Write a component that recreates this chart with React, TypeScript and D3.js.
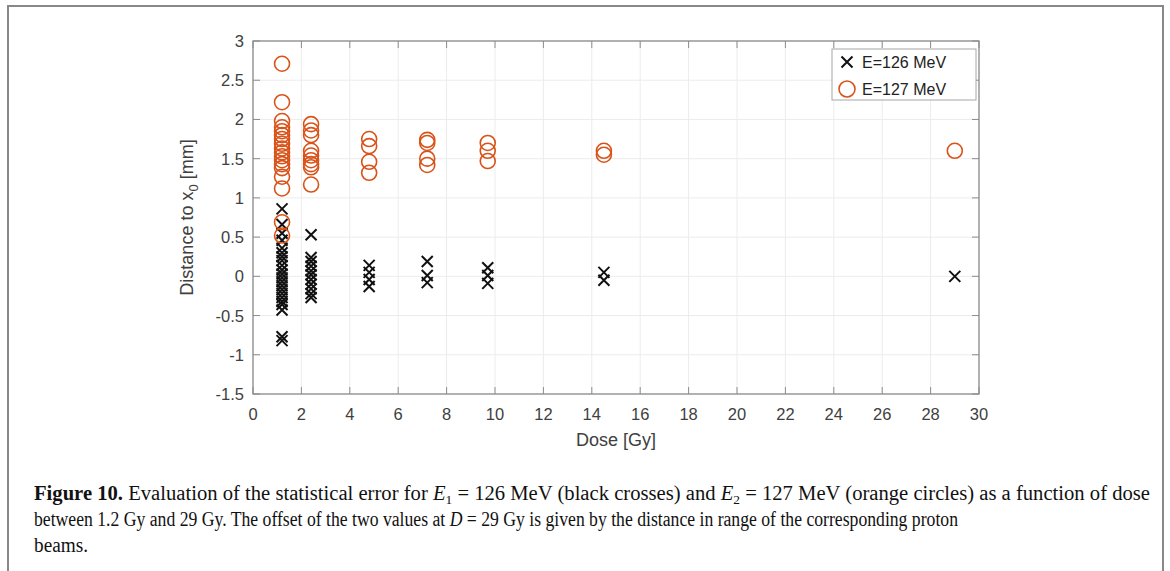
import React from "react";
import * as d3 from "d3";

const doses = [1.2, 2.4, 4.8, 7.2, 9.7, 14.5, 29];

const crosses126: number[][] = [
  [0.86, 0.66, 0.55, 0.46, 0.36, 0.3, 0.25, 0.2, 0.14, 0.08, 0.03, -0.02, -0.07, -0.12, -0.17, -0.22, -0.27, -0.32, -0.36, -0.43, -0.77, -0.82],
  [0.53, 0.24, 0.19, 0.13, 0.07, 0.02, -0.04, -0.1, -0.16, -0.22, -0.27],
  [0.14, 0.05, -0.04, -0.13],
  [0.19, 0.01, -0.08],
  [0.11, 0.01, -0.09],
  [0.05, -0.05],
  [0.0],
];

const circles127: number[][] = [
  [2.71, 2.22, 1.98, 1.9, 1.85, 1.8, 1.75, 1.69, 1.63, 1.58, 1.53, 1.48, 1.43, 1.38, 1.27, 1.12, 0.69, 0.52],
  [1.94, 1.86, 1.8, 1.6, 1.54, 1.48, 1.43, 1.39, 1.17],
  [1.75, 1.66, 1.46, 1.32],
  [1.74, 1.7, 1.5, 1.42],
  [1.7, 1.6, 1.47],
  [1.6, 1.55],
  [1.6],
];

const xTicks = d3.range(0, 31, 2);
const yTicks = [-1.5, -1, -0.5, 0, 0.5, 1, 1.5, 2, 2.5, 3];

const legendLabels = ["E=126 MeV", "E=127 MeV"];

const W = 1170;
const H = 571;
const plot = { left: 253, right: 979, top: 41, bottom: 394 };
const ORANGE = "#D95319";
const AXIS = "#8c8c8c";
const TEXT = "#404040";
const SANS = "'Liberation Sans', Arial, Helvetica, sans-serif";
const SERIF = "'Liberation Serif', 'Times New Roman', serif";

function Cross({ x, y, s = 5.5 }: { x: number; y: number; s?: number }) {
  return (
    <path
      d={`M${x - s},${y - s}L${x + s},${y + s}M${x - s},${y + s}L${x + s},${y - s}`}
      stroke="#111"
      strokeWidth={2}
      fill="none"
    />
  );
}

export default function App() {
  const x = d3.scaleLinear().domain([0, 30]).range([plot.left, plot.right]);
  const y = d3.scaleLinear().domain([-1.5, 3]).range([plot.bottom, plot.top]);
  const tickLen = 7;

  const crossPts: { x: number; y: number }[] = [];
  crosses126.forEach((vals, i) => vals.forEach((v) => crossPts.push({ x: x(doses[i]), y: y(v) })));
  const circPts: { x: number; y: number }[] = [];
  circles127.forEach((vals, i) => vals.forEach((v) => circPts.push({ x: x(doses[i]), y: y(v) })));

  const fmt = (v: number) => (v === 0 ? "0" : String(v));

  return (
    <svg
      width={W}
      height={H}
      style={{ position: "absolute", left: 0, top: 0, background: "#fff" }}
    >
      {/* outer figure border */}
      <path d={`M8,${H + 5}V6H1163V${H + 5}`} stroke="#888" strokeWidth={2} fill="none" />

      {/* grid */}
      <g stroke="#ececec" strokeWidth={1}>
        {xTicks.map((t) => (
          <line key={"gx" + t} x1={x(t)} x2={x(t)} y1={plot.top} y2={plot.bottom} />
        ))}
        {yTicks.map((t) => (
          <line key={"gy" + t} x1={plot.left} x2={plot.right} y1={y(t)} y2={y(t)} />
        ))}
      </g>

      {/* ticks (inward, all sides) */}
      <g stroke={AXIS} strokeWidth={1}>
        {xTicks.map((t) => (
          <g key={"tx" + t}>
            <line x1={x(t)} x2={x(t)} y1={plot.bottom} y2={plot.bottom - tickLen} />
            <line x1={x(t)} x2={x(t)} y1={plot.top} y2={plot.top + tickLen} />
          </g>
        ))}
        {yTicks.map((t) => (
          <g key={"ty" + t}>
            <line x1={plot.left} x2={plot.left + tickLen} y1={y(t)} y2={y(t)} />
            <line x1={plot.right} x2={plot.right - tickLen} y1={y(t)} y2={y(t)} />
          </g>
        ))}
      </g>
      <rect
        x={plot.left}
        y={plot.top}
        width={plot.right - plot.left}
        height={plot.bottom - plot.top}
        fill="none"
        stroke={AXIS}
        strokeWidth={1.3}
      />

      {/* tick labels */}
      <g fontFamily={SANS} fontSize={16.5} fill={TEXT}>
        {xTicks.map((t) => (
          <text key={"lx" + t} x={x(t)} y={plot.bottom + 26} textAnchor="middle">
            {t}
          </text>
        ))}
        {yTicks.map((t) => (
          <text key={"ly" + t} x={plot.left - 9} y={y(t) + 6} textAnchor="end">
            {fmt(t)}
          </text>
        ))}
      </g>

      {/* axis labels */}
      <text x={(plot.left + plot.right) / 2} y={446} textAnchor="middle" fontFamily={SANS} fontSize={18} fill={TEXT}>
        Dose [Gy]
      </text>
      <text
        transform={`translate(193,${(plot.top + plot.bottom) / 2}) rotate(-90)`}
        textAnchor="middle"
        fontFamily={SANS}
        fontSize={18}
        fill={TEXT}
      >
        Distance to x<tspan fontSize={13} dy={5}>0</tspan>
        <tspan dy={-5}> [mm]</tspan>
      </text>

      {/* data: crosses */}
      <g>
        {crossPts.map((p, i) => (
          <Cross key={"c" + i} x={p.x} y={p.y} />
        ))}
      </g>
      {/* data: circles */}
      <g>
        {circPts.map((p, i) => (
          <circle key={"o" + i} cx={p.x} cy={p.y} r={7.5} fill="none" stroke={ORANGE} strokeWidth={1.6} />
        ))}
      </g>

      {/* legend */}
      <g>
        <rect x={832} y={49} width={144} height={51} fill="#fff" stroke="#a6a6a6" strokeWidth={1} />
        <Cross x={847} y={62} />
        <circle cx={847} cy={89} r={8} fill="none" stroke={ORANGE} strokeWidth={1.6} />
        <text x={862} y={68} fontFamily={SANS} fontSize={16} fill="#222">
          {legendLabels[0]}
        </text>
        <text x={862} y={95} fontFamily={SANS} fontSize={16} fill="#222">
          {legendLabels[1]}
        </text>
      </g>

      {/* caption */}
      <g fontFamily={SERIF} fontSize={20} fill="#111">
        <text x={34} y={500} textLength={1116} lengthAdjust="spacingAndGlyphs">
          <tspan fontWeight="bold">Figure 10.</tspan> Evaluation of the statistical error for{" "}
          <tspan fontStyle="italic">E</tspan>
          <tspan fontSize={13} dy={4}>1</tspan>
          <tspan dy={-4}> = 126 MeV (black crosses) and </tspan>
          <tspan fontStyle="italic">E</tspan>
          <tspan fontSize={13} dy={4}>2</tspan>
          <tspan dy={-4}> = 127 MeV (orange circles) as a function of dose</tspan>
        </text>
        <text x={34} y={526} textLength={924} lengthAdjust="spacingAndGlyphs">
          between 1.2 Gy and 29 Gy. The offset of the two values at <tspan fontStyle="italic">D</tspan> = 29 Gy is given
          by the distance in range of the corresponding proton
        </text>
        <text x={34} y={552} textLength={54} lengthAdjust="spacingAndGlyphs">
          beams.
        </text>
      </g>
    </svg>
  );
}
